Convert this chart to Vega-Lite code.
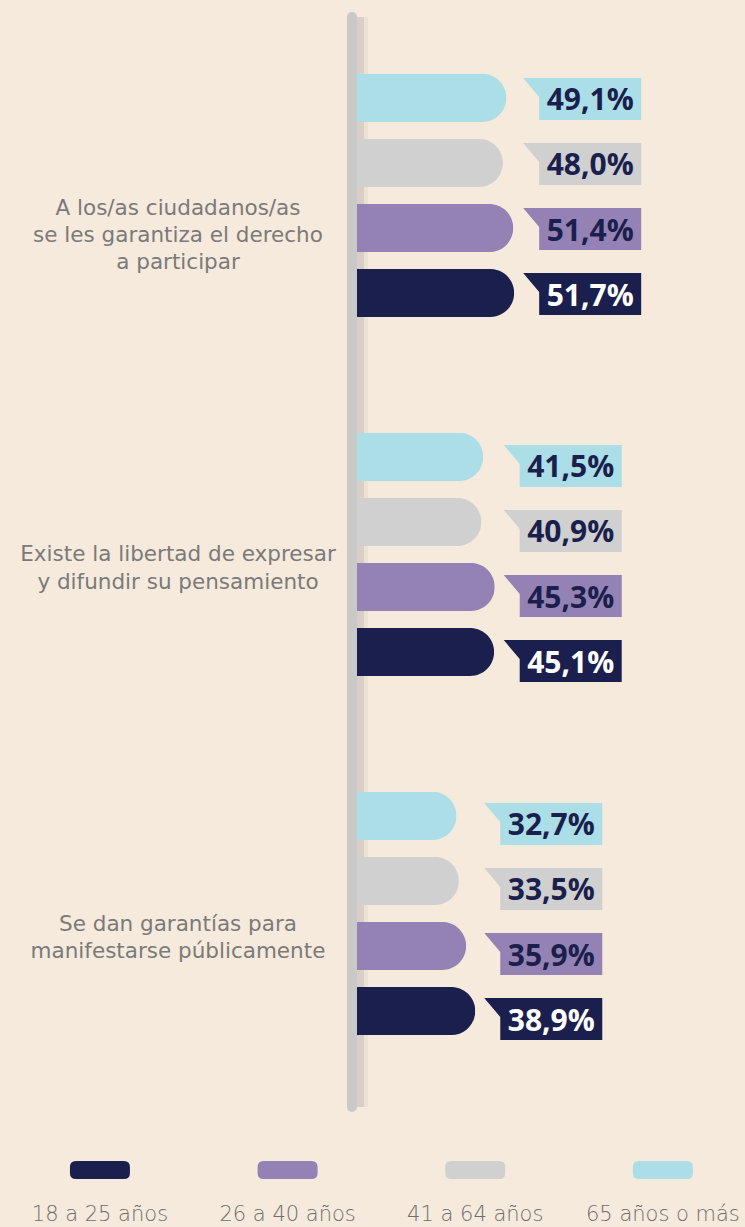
{
  "$schema": "https://vega.github.io/schema/vega-lite/v6.json",
  "background": "#f5eadc",
  "padding": 0,
  "spacing": 0,
  "bounds": "flush",
  "config": {
    "view": {"stroke": null},
    "locale": {"number": {"decimal": ",", "thousands": ".", "grouping": [3], "currency": ["", " €"]}}
  },
  "datasets": {
    "rows": [
      {"category": "A los/as ciudadanos/as\nse les garantiza el derecho\na participar", "age": "65 años o más", "value": 0.491},
      {"category": "A los/as ciudadanos/as\nse les garantiza el derecho\na participar", "age": "41 a 64 años", "value": 0.480},
      {"category": "A los/as ciudadanos/as\nse les garantiza el derecho\na participar", "age": "26 a 40 años", "value": 0.514},
      {"category": "A los/as ciudadanos/as\nse les garantiza el derecho\na participar", "age": "18 a 25 años", "value": 0.517},
      {"category": "Existe la libertad de expresar\ny difundir su pensamiento", "age": "65 años o más", "value": 0.415},
      {"category": "Existe la libertad de expresar\ny difundir su pensamiento", "age": "41 a 64 años", "value": 0.409},
      {"category": "Existe la libertad de expresar\ny difundir su pensamiento", "age": "26 a 40 años", "value": 0.453},
      {"category": "Existe la libertad de expresar\ny difundir su pensamiento", "age": "18 a 25 años", "value": 0.451},
      {"category": "Se dan garantías para\nmanifestarse públicamente", "age": "65 años o más", "value": 0.327},
      {"category": "Se dan garantías para\nmanifestarse públicamente", "age": "41 a 64 años", "value": 0.335},
      {"category": "Se dan garantías para\nmanifestarse públicamente", "age": "26 a 40 años", "value": 0.359},
      {"category": "Se dan garantías para\nmanifestarse públicamente", "age": "18 a 25 años", "value": 0.389}
    ],
    "ages": [
      {"age": "18 a 25 años"},
      {"age": "26 a 40 años"},
      {"age": "41 a 64 años"},
      {"age": "65 años o más"}
    ]
  },
  "vconcat": [
    {
      "width": 745,
      "height": 1107,
      "data": {"name": "rows"},
      "layer": [
        {
          "data": {"values": [{}]},
          "mark": {"type": "rule", "color": "#ece1d5", "strokeWidth": 6, "yOffset": 17},
          "encoding": {"x": {"datum": 0.0263, "type": "quantitative", "scale": {"domain": [-1.1743, 1.2763], "nice": false, "zero": false}, "axis": null}}
        },
        {
          "data": {"values": [{}]},
          "mark": {"type": "rule", "color": "#d9cfc5", "strokeWidth": 8, "yOffset": 17},
          "encoding": {"x": {"datum": 0.0099, "type": "quantitative", "scale": {"domain": [-1.1743, 1.2763], "nice": false, "zero": false}, "axis": null}}
        },
        {
          "data": {"values": [{}]},
          "mark": {"type": "rule", "color": "#c9c9c9", "strokeWidth": 10, "strokeCap": "round", "yOffset": 17},
          "encoding": {"x": {"datum": -0.01645, "type": "quantitative", "scale": {"domain": [-1.1743, 1.2763], "nice": false, "zero": false}, "axis": null}}
        },
        {
          "mark": {"type": "bar", "cornerRadiusEnd": 24},
          "encoding": {
            "x": {"field": "value", "type": "quantitative", "scale": {"domain": [-1.1743, 1.2763], "nice": false, "zero": false}, "axis": null},
            "y": {"field": "category", "type": "nominal", "scale": {"domain": ["A los/as ciudadanos/as\nse les garantiza el derecho\na participar", "Existe la libertad de expresar\ny difundir su pensamiento", "Se dan garantías para\nmanifestarse públicamente"], "paddingInner": 0, "paddingOuter": 0.04178, "align": 0.533}, "axis": null},
            "yOffset": {"field": "age", "type": "nominal", "scale": {"domain": ["65 años o más", "41 a 64 años", "26 a 40 años", "18 a 25 años"], "paddingInner": 0.26, "paddingOuter": 0.89}},
            "color": {"field": "age", "type": "nominal", "scale": {"domain": ["18 a 25 años", "26 a 40 años", "41 a 64 años", "65 años o más"], "range": ["#1b1f4e", "#9582b4", "#d0d0d0", "#abdee6"]}, "legend": null}
          }
        },
        {
          "transform": [
            {"joinaggregate": [{"op": "max", "field": "value", "as": "gmax"}], "groupby": ["category"]},
            {"filter": "indexof(datum.category, 'A los') === 0"}
          ],
          "layer": [
            {
              "mark": {"type": "point", "shape": "M9,-20L127,-20L127,22L25,22L25,-1Z", "size": 4, "filled": true, "opacity": 1, "strokeWidth": 0},
              "encoding": {
                "x": {"field": "gmax", "type": "quantitative", "scale": {"domain": [-1.1743, 1.2763], "nice": false, "zero": false}, "axis": null},
                "y": {"field": "category", "type": "nominal", "axis": null},
                "yOffset": {"field": "age", "type": "nominal"},
                "color": {"field": "age", "type": "nominal", "legend": null}
              }
            },
            {
              "mark": {"type": "text", "dx": 76, "dy": 12.5, "align": "center", "baseline": "alphabetic", "font": "Open Sans", "fontWeight": "bold", "fontSize": 30},
              "encoding": {
                "x": {"field": "gmax", "type": "quantitative", "scale": {"domain": [-1.1743, 1.2763], "nice": false, "zero": false}, "axis": null},
                "y": {"field": "category", "type": "nominal", "axis": null},
                "yOffset": {"field": "age", "type": "nominal"},
                "text": {"field": "value", "type": "quantitative", "format": ".1%"},
                "color": {"condition": {"test": "datum.age === '18 a 25 años'", "value": "#ffffff"}, "value": "#1b1f4e"}
              }
            }
          ]
        },
        {
          "transform": [
            {"joinaggregate": [{"op": "max", "field": "value", "as": "gmax"}], "groupby": ["category"]},
            {"filter": "indexof(datum.category, 'Existe') === 0"}
          ],
          "layer": [
            {
              "mark": {"type": "point", "shape": "M9,-12L127,-12L127,30L25,30L25,7Z", "size": 4, "filled": true, "opacity": 1, "strokeWidth": 0},
              "encoding": {
                "x": {"field": "gmax", "type": "quantitative", "scale": {"domain": [-1.1743, 1.2763], "nice": false, "zero": false}, "axis": null},
                "y": {"field": "category", "type": "nominal", "axis": null},
                "yOffset": {"field": "age", "type": "nominal"},
                "color": {"field": "age", "type": "nominal", "legend": null}
              }
            },
            {
              "mark": {"type": "text", "dx": 76, "dy": 20.5, "align": "center", "baseline": "alphabetic", "font": "Open Sans", "fontWeight": "bold", "fontSize": 30},
              "encoding": {
                "x": {"field": "gmax", "type": "quantitative", "scale": {"domain": [-1.1743, 1.2763], "nice": false, "zero": false}, "axis": null},
                "y": {"field": "category", "type": "nominal", "axis": null},
                "yOffset": {"field": "age", "type": "nominal"},
                "text": {"field": "value", "type": "quantitative", "format": ".1%"},
                "color": {"condition": {"test": "datum.age === '18 a 25 años'", "value": "#ffffff"}, "value": "#1b1f4e"}
              }
            }
          ]
        },
        {
          "transform": [
            {"joinaggregate": [{"op": "max", "field": "value", "as": "gmax"}], "groupby": ["category"]},
            {"filter": "indexof(datum.category, 'Se dan') === 0"}
          ],
          "layer": [
            {
              "mark": {"type": "point", "shape": "M9,-13L127,-13L127,29L25,29L25,6Z", "size": 4, "filled": true, "opacity": 1, "strokeWidth": 0},
              "encoding": {
                "x": {"field": "gmax", "type": "quantitative", "scale": {"domain": [-1.1743, 1.2763], "nice": false, "zero": false}, "axis": null},
                "y": {"field": "category", "type": "nominal", "axis": null},
                "yOffset": {"field": "age", "type": "nominal"},
                "color": {"field": "age", "type": "nominal", "legend": null}
              }
            },
            {
              "mark": {"type": "text", "dx": 76, "dy": 19.5, "align": "center", "baseline": "alphabetic", "font": "Open Sans", "fontWeight": "bold", "fontSize": 30},
              "encoding": {
                "x": {"field": "gmax", "type": "quantitative", "scale": {"domain": [-1.1743, 1.2763], "nice": false, "zero": false}, "axis": null},
                "y": {"field": "category", "type": "nominal", "axis": null},
                "yOffset": {"field": "age", "type": "nominal"},
                "text": {"field": "value", "type": "quantitative", "format": ".1%"},
                "color": {"condition": {"test": "datum.age === '18 a 25 años'", "value": "#ffffff"}, "value": "#1b1f4e"}
              }
            }
          ]
        },
        {
          "transform": [{"filter": "datum.age === '18 a 25 años' && indexof(datum.category, 'A los') === 0"}],
          "mark": {"type": "text", "lineBreak": "\n", "align": "center", "baseline": "alphabetic", "font": "DejaVu Sans", "fontSize": 21.5, "lineHeight": 27, "color": "#7a7a7a", "dy": 19.5},
          "encoding": {
            "x": {"datum": -0.5888, "type": "quantitative", "scale": {"domain": [-1.1743, 1.2763], "nice": false, "zero": false}, "axis": null},
            "y": {"field": "category", "type": "nominal", "axis": null},
            "text": {"field": "category"}
          }
        },
        {
          "transform": [{"filter": "datum.age === '18 a 25 años' && indexof(datum.category, 'Existe') === 0"}],
          "mark": {"type": "text", "lineBreak": "\n", "align": "center", "baseline": "alphabetic", "font": "DejaVu Sans", "fontSize": 21.5, "lineHeight": 28, "color": "#7a7a7a", "dy": 7},
          "encoding": {
            "x": {"datum": -0.5888, "type": "quantitative", "scale": {"domain": [-1.1743, 1.2763], "nice": false, "zero": false}, "axis": null},
            "y": {"field": "category", "type": "nominal", "axis": null},
            "text": {"field": "category"}
          }
        },
        {
          "transform": [{"filter": "datum.age === '18 a 25 años' && indexof(datum.category, 'Se dan') === 0"}],
          "mark": {"type": "text", "lineBreak": "\n", "align": "center", "baseline": "alphabetic", "font": "DejaVu Sans", "fontSize": 21.5, "lineHeight": 27, "color": "#7a7a7a", "dy": 18},
          "encoding": {
            "x": {"datum": -0.5888, "type": "quantitative", "scale": {"domain": [-1.1743, 1.2763], "nice": false, "zero": false}, "axis": null},
            "y": {"field": "category", "type": "nominal", "axis": null},
            "text": {"field": "category"}
          }
        }
      ]
    },
    {
      "width": 745,
      "height": 120,
      "data": {"name": "ages"},
      "layer": [
        {
          "mark": {"type": "point", "shape": "M-24,-6L24,-6Q30,-6 30,0L30,6Q30,12 24,12L-24,12Q-30,12 -30,6L-30,0Q-30,-6 -24,-6Z", "size": 4, "filled": true, "opacity": 1, "strokeWidth": 0},
          "encoding": {
            "x": {"field": "age", "type": "nominal", "scale": {"type": "point", "domain": ["18 a 25 años", "26 a 40 años", "41 a 64 años", "65 años o más"], "padding": 0.485, "align": 0.549}, "axis": null},
            "color": {"field": "age", "type": "nominal", "scale": {"domain": ["18 a 25 años", "26 a 40 años", "41 a 64 años", "65 años o más"], "range": ["#1b1f4e", "#9582b4", "#d0d0d0", "#abdee6"]}, "legend": null}
          }
        },
        {
          "mark": {"type": "text", "align": "center", "baseline": "alphabetic", "dy": 54, "font": "DejaVu Sans", "fontWeight": 200, "fontSize": 21, "color": "#6e6e6e"},
          "encoding": {
            "x": {"field": "age", "type": "nominal", "axis": null},
            "text": {"field": "age"}
          }
        }
      ]
    }
  ]
}
